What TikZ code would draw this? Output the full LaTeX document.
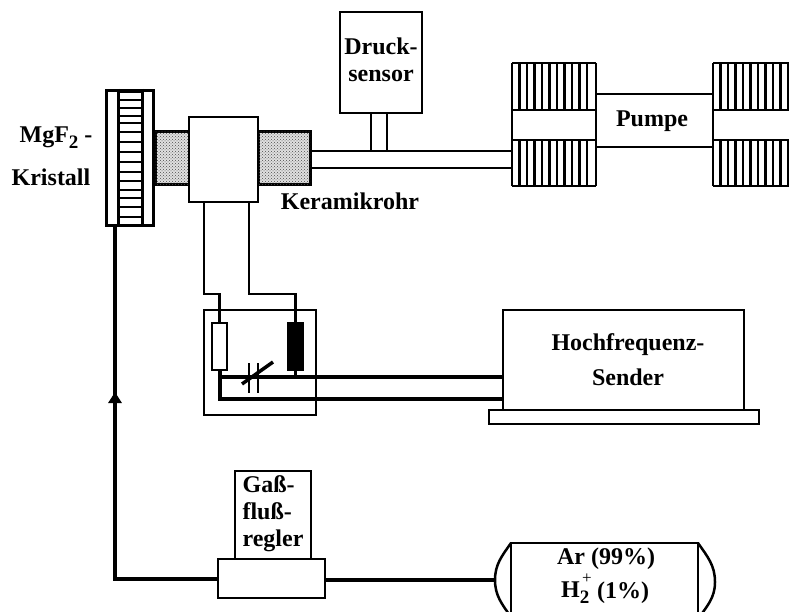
\documentclass[tikz,border=0pt]{standalone}
\usepackage{fontspec}
\setmainfont{Liberation Serif}
\usetikzlibrary{arrows.meta,patterns}
\newcommand{\tiefzwei}{\raisebox{-6pt}{\fontsize{19}{19}\selectfont 2}}
\tikzset{
  box/.style={draw,line width=2.5pt,fill=white,inner sep=0pt,outer sep=0pt},
  stipple/.style={box,line width=3pt,fill=black!12,postaction={pattern=crosshatch dots,pattern color=black!70}},
  thin wire/.style={line width=2.5pt},
  thick wire/.style={line width=4pt},
  label text/.style={font=\bfseries\fontsize{24}{27}\selectfont,align=center,inner sep=0pt},
}
\begin{document}
\begin{tikzpicture}[x=1pt,y=-1pt]
  \clip (0,0) rectangle (789,612);
  % Gas line
  \node[box,minimum width=107pt,minimum height=39pt] (regler) at (271.5,578.5) {};
  \node[box,minimum width=76pt,minimum height=88pt] (gasbox) at (273,515) {};
  \node[label text,align=left] (gastext) at (273,514) {Gaß-\\fluß-\\regler};
  \node[box,minimum width=187pt,minimum height=120pt] (flasche) at (604.5,603) {};
  \coordinate (kappe) at (495,580);
  \draw[thin wire] (511,543) to[out=235,in=90] (kappe) to[out=-90,in=125] (511,617);
  \draw[thin wire] (698,543) to[out=-55,in=90] (715,582) to[out=-90,in=55] (698,619);
  \node[label text] (artext) at (606,559) {Ar (99\%)};
  \node[label text,anchor=west] (htext) at (561,593) {H\tiefzwei};
  \node[inner sep=0pt,font=\fontsize{17}{17}\selectfont] (plus) at (587,579) {+};
  \node[label text,anchor=west] (prozent) at (597,593) {(1\%)};
  \coordinate (knick) at (115,579);
  \coordinate (pfeilspitze) at (115,392);
  \node[box,minimum width=47pt,minimum height=135pt,line width=3.5pt] (kristall) at (130,158) {};
  \draw[thick wire] (kristall.south -| knick) -- (knick) -- (regler.west |- knick);
  \draw[thick wire,-{Triangle[length=11pt,width=13pt]}] (knick) -- (pfeilspitze);
  \draw[thick wire] (regler.east |- kappe) -- (kappe);
  % Crystal
  \draw[line width=3pt] (118,89) -- (118,227);
  \draw[line width=3pt] (142,89) -- (142,227);
  \foreach \y in {92,100,108,116,123,132,142,152,162,172,181,190,198,207,217}
    \draw[line width=2.5pt] (118,\y) -- (142,\y);
  \node[label text] (mgtext) at (56,138) {MgF\tiefzwei\ -};
  \node[label text] (kristtext) at (51,177) {Kristall};
  % Ceramic tube
  \node[stipple,minimum width=34pt,minimum height=53pt] (rohrl) at (172,158.5) {};
  \node[stipple,minimum width=52pt,minimum height=53pt] (rohrr) at (284,158.5) {};
  \node[box,minimum width=69pt,minimum height=85pt] (kammer) at (223.5,159.5) {};
  \node[label text] (keramik) at (350,201) {Keramikrohr};
  % Pump
  \coordinate (oben) at (0,151);
  \coordinate (unten) at (0,168);
  \foreach \x in {512,519.5,...,590,596,713,720.5,...,789} {
    \draw[thin wire] (\x,63) -- (\x,110);
    \draw[thin wire] (\x,140) -- (\x,186);
  }
  \draw[thin wire] (512,63) -- (596,63) (512,110) -- (596,110) (512,140) -- (596,140) (512,186) -- (596,186);
  \draw[thin wire] (713,63) -- (789,63) (713,110) -- (789,110) (713,140) -- (789,140) (713,186) -- (789,186);
  \draw[thin wire] (512,110) -- (512,140) (596,94) -- (713,94) (596,147) -- (713,147) (713,94) -- (713,147) (596,110) -- (596,147);
  \node[label text] (pumpe) at (652,121) {Pumpe};
  \draw[thin wire] (rohrr.east |- oben) -- (512,151);
  \draw[thin wire] (rohrr.east |- unten) -- (512,168);
  % Pressure sensor
  \node[box,minimum width=82pt,minimum height=101pt] (sensor) at (381,62.5) {};
  \node[label text] (drucktext) at (381,60) {Druck-\\sensor};
  \draw[thin wire] (371,113) -- (371,151);
  \draw[thin wire] (387,113) -- (387,151);
  % Matching network
  \node[box,fill=none,minimum width=112pt,minimum height=105pt] (netz) at (260,362.5) {};
  \node[box,minimum width=15pt,minimum height=47pt] (widerstand) at (219.5,346.5) {};
  \node[box,fill=black,minimum width=15pt,minimum height=47pt] (spule) at (295.5,346.5) {};
  \node[box,minimum width=241pt,minimum height=100pt] (sender) at (623.5,360) {};
  \node[box,minimum width=270pt,minimum height=14pt] (sockel) at (624,417) {};
  \node[label text,font=\bfseries\fontsize{24}{35}\selectfont] (sendertext) at (628,360) {Hochfrequenz-\\Sender};
  \coordinate (al) at (204,294);
  \coordinate (ar) at (249,294);
  \draw[thin wire] (kammer.south -| al) -- (al) -- (widerstand.north |- al) -- (widerstand.north);
  \draw[thin wire] (kammer.south -| ar) -- (ar) -- (spule.north |- ar) -- (spule.north);
  \coordinate (ro) at (0,377);
  \coordinate (ru) at (0,399);
  \draw[thick wire] (widerstand.south) -- (widerstand.south |- ru) -- (sender.west |- ru);
  \draw[thick wire] (widerstand.south |- ro) -- (sender.west |- ro);
  \draw[thin wire] (spule.south) -- (spule.south |- ro);
  % Capacitor
  \coordinate (pa) at (249,363);
  \coordinate (pb) at (249,393);
  \coordinate (pc) at (258,363);
  \coordinate (pd) at (258,393);
  \coordinate (da) at (242,384);
  \coordinate (db) at (273,362);
  \draw[thin wire] (pa) -- (pb);
  \draw[thin wire] (pc) -- (pd);
  \draw[line width=3.5pt] (da) -- (db);
\end{tikzpicture}
\end{document}
